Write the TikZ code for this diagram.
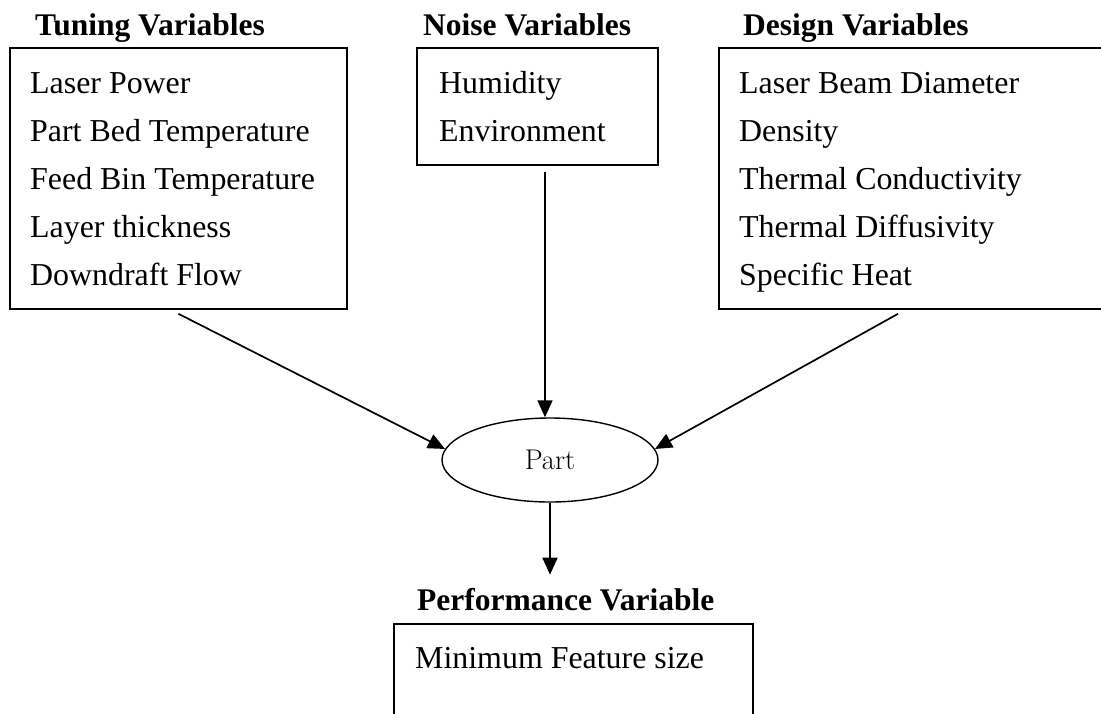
\documentclass[tikz,border=0pt]{standalone}
\usepackage{fontspec}
\newfontfamily\tnr{Liberation Serif}
\usetikzlibrary{arrows.meta,shapes.geometric}
\begin{document}
\begin{tikzpicture}[x=1pt,y=-1pt,
  box/.style={draw,line width=1.8pt,rectangle,anchor=north west,inner sep=0},
  item/.style={anchor=base west,inner sep=0,font=\tnr\fontsize{31.9}{36}\selectfont},
  ttl/.style={anchor=base west,inner sep=0,font=\tnr\bfseries\fontsize{31.5}{36}\selectfont},
  arr/.style={line width=1.7pt,-{Triangle[length=17pt,width=15pt]}}]
\useasboundingbox (0,0) rectangle (1101,713);
\clip (0,0) rectangle (1101,713);

% titles
\node[ttl] (ttune) at (35,35) {Tuning Variables};
\node[ttl] (tnoise) at (423,35) {Noise Variables};
\node[ttl] (tdesign) at (743,35) {Design Variables};
\node[ttl] (tperf) at (417,610) {Performance Variable};

% boxes
\node[box,minimum width=337pt,minimum height=261pt] (tuning) at (9,47) {};
\node[box,minimum width=241pt,minimum height=117pt] (noise) at (416,47) {};
\node[box,minimum width=400pt,minimum height=261pt] (design) at (718,47) {};
\node[box,minimum width=359pt,minimum height=130pt] (perf) at (393,623) {};

% items
\node[item] (t1) at (30,93) {Laser Power};
\node[item] (t2) at (30,141) {Part Bed Temperature};
\node[item] (t3) at (30,189) {Feed Bin Temperature};
\node[item] (t4) at (30,237) {Layer thickness};
\node[item] (t5) at (30,285) {Downdraft Flow};

\node[item] (n1) at (439,93) {Humidity};
\node[item] (n2) at (439,141) {Environment};

\node[item] (d1) at (739,93) {Laser Beam Diameter};
\node[item] (d2) at (739,141) {Density};
\node[item] (d3) at (739,189) {Thermal Conductivity};
\node[item] (d4) at (739,237) {Thermal Diffusivity};
\node[item] (d5) at (739,285) {Specific Heat};

\node[item] (p1) at (415,668) {Minimum Feature size};

% part
\node[ellipse,draw,line width=1.4pt,minimum width=216pt,minimum height=84pt,inner sep=0,
      font=\fontsize{28.5}{32}\selectfont] (part) at (550,460) {Part};

% connectors
\coordinate (ts) at ([yshift=-4pt]tuning.south);
\coordinate (ns) at ([xshift=129pt,yshift=-6pt]noise.south west);
\coordinate (ds) at ([xshift=180pt,yshift=-4pt]design.south west);
\coordinate (pe) at ([yshift=-72pt]part.south);
\draw[arr] (ts) -- (part.174);
\draw[arr] (ns) -- (ns |- part.north);
\draw[arr] (ds) -- (part.6);
\draw[arr] (part.south) -- (pe);
\end{tikzpicture}
\end{document}
